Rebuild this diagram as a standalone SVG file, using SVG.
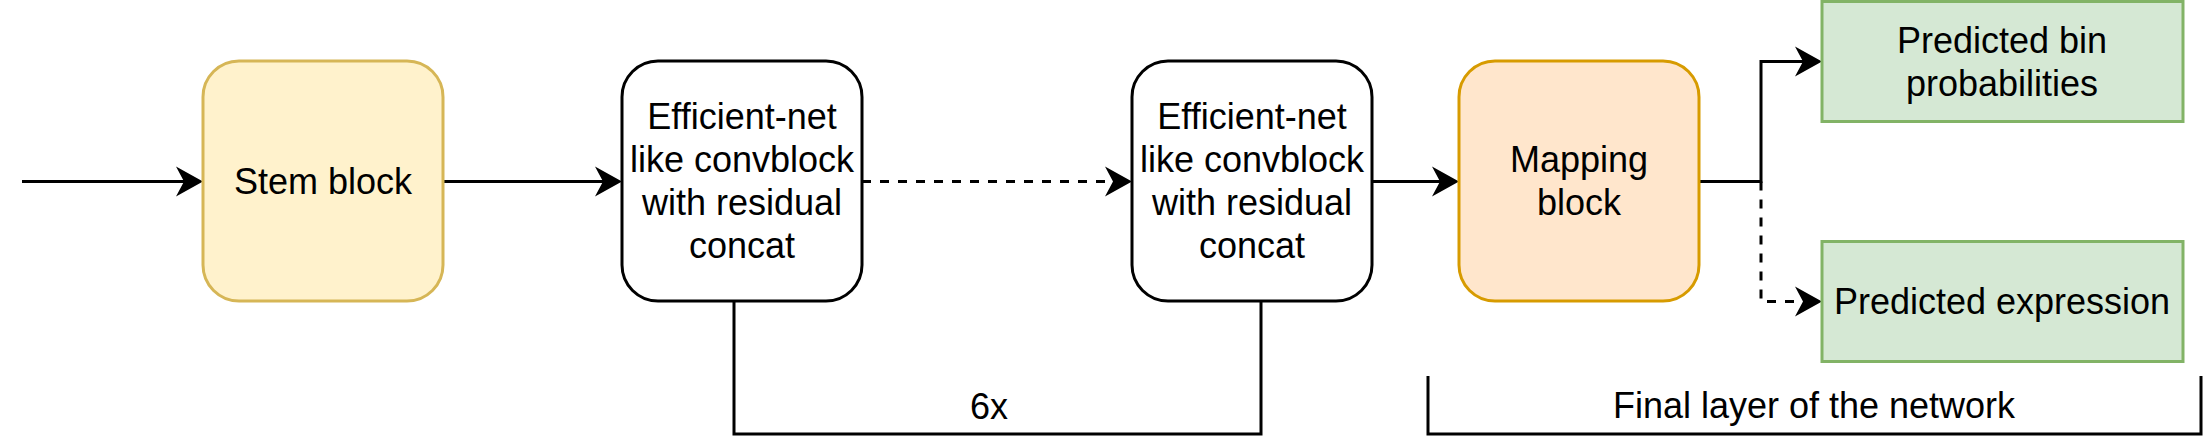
<svg xmlns="http://www.w3.org/2000/svg" width="2205" height="441" viewBox="0 0 2205 441">
<style>
text{font-family:"Liberation Sans",Arial,Helvetica,sans-serif;font-size:36px;fill:#000;text-anchor:middle}
.box{stroke-width:3}
.plain{fill:#fff;stroke:#000}
.stem{fill:#fff2cc;stroke:#d6b656}
.map{fill:#ffe6cc;stroke:#d79b00}
.out{fill:#d5e8d4;stroke:#82b366}
.ln{fill:none;stroke:#000;stroke-width:3}
.dash{stroke-dasharray:9 9}
</style>
<defs>
<marker id="arr" markerUnits="userSpaceOnUse" markerWidth="30" markerHeight="30" refX="8" refY="15" orient="auto" overflow="visible">
<path d="M0,0 L27,15 L0,30 L8,15 Z" fill="#000" stroke="none"/>
</marker>
</defs>
<rect width="2205" height="441" fill="#fff"/>
<g id="connectors">
<path class="ln" d="M22,181.5 H184" marker-end="url(#arr)"/>
<path class="ln" d="M443,181.5 H603" marker-end="url(#arr)"/>
<path class="ln dash" d="M862,181.5 H1113" marker-end="url(#arr)"/>
<path class="ln" d="M1372,181.5 H1440" marker-end="url(#arr)"/>
<path class="ln" d="M1699,181.5 H1761 V61.5 H1803" marker-end="url(#arr)"/>
<path class="ln dash" d="M1761,181.5 V301.5 H1803" marker-end="url(#arr)"/>
<path class="ln" d="M734,301 V434 H1261 V301"/>
<path class="ln" d="M1428,376 V434 H2201 V376"/>
</g>
<g id="stem">
<rect class="box stem" x="203" y="61" width="240" height="240" rx="36"/>
<text x="323" y="194">Stem block</text>
</g>
<g id="eff1">
<rect class="box plain" x="622" y="61" width="240" height="240" rx="36"/>
<text x="742"><tspan x="742" y="129">Efficient-net</tspan><tspan x="742" y="172">like convblock</tspan><tspan x="742" y="215">with residual</tspan><tspan x="742" y="258">concat</tspan></text>
</g>
<g id="eff2">
<rect class="box plain" x="1132" y="61" width="240" height="240" rx="36"/>
<text x="1252"><tspan x="1252" y="129">Efficient-net</tspan><tspan x="1252" y="172">like convblock</tspan><tspan x="1252" y="215">with residual</tspan><tspan x="1252" y="258">concat</tspan></text>
</g>
<g id="mapping">
<rect class="box map" x="1459" y="61" width="240" height="240" rx="36"/>
<text x="1579"><tspan x="1579" y="172">Mapping</tspan><tspan x="1579" y="215">block</tspan></text>
</g>
<g id="pred-bin">
<rect class="box out" x="1822" y="1.5" width="361" height="120"/>
<text x="2002"><tspan x="2002" y="52.5">Predicted bin</tspan><tspan x="2002" y="95.5">probabilities</tspan></text>
</g>
<g id="pred-expr">
<rect class="box out" x="1822" y="241.5" width="361" height="120"/>
<text x="2002" y="314">Predicted expression</text>
</g>
<g id="label-6x">
<text x="989" y="419">6x</text>
</g>
<g id="label-final">
<text x="1814" y="418">Final layer of the network</text>
</g>
</svg>
